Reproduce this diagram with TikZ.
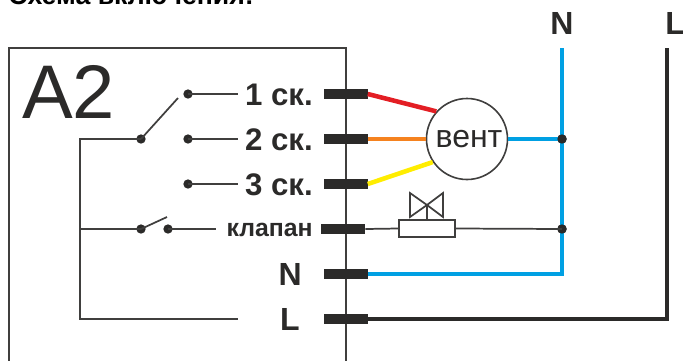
\documentclass[tikz,border=0pt]{standalone}
\usepackage{fontspec}
\setmainfont{Liberation Sans}
\definecolor{ink}{HTML}{2B2A29}
\definecolor{wred}{HTML}{E31E24}
\definecolor{worange}{HTML}{F5821F}
\definecolor{wyellow}{HTML}{FFED00}
\definecolor{wblue}{HTML}{00A0E3}
\tikzset{
  thinw/.style={draw=ink!90!white,line width=1.3pt},
  thickw/.style={line width=3.4pt,line join=miter},
  term/.style={fill=ink,draw=none,minimum width=33pt,minimum height=7pt,inner sep=0pt,rectangle},
  jdot/.style={circle,fill=ink,draw=none,minimum size=7pt,inner sep=0pt},
  lab/.style={text=ink,font=\bfseries\fontsize{23.4}{23.4}\selectfont,inner sep=0pt,anchor=base east},
  pole/.style={lab,font=\bfseries\fontsize{24}{24}\selectfont},
}
\begin{document}
\begin{tikzpicture}[x=0.75pt,y=-0.75pt]
\useasboundingbox (0,0) rectangle (683,361);
% title, cut by the page edge
\node[text=black,font=\bfseries\fontsize{20}{20}\selectfont,inner sep=0pt,anchor=base west] (title) at (8,4.5) {Схема включения:};
% module frame
\draw[draw=ink!90!white,line width=1.3pt] (346,361) -- (346,48) -- (9,48) -- (9,361);
\node[text=ink,font=\fontsize{57}{57}\selectfont,inner sep=0pt,anchor=base west] (a2) at (22,118) {A2};
% terminals
\node[term] (t1) at (345.5,94) {};
\node[term] (t2) at (345.5,139) {};
\node[term] (t3) at (345.5,184) {};
\node[term] (t4) at (343,229) {};
\node[term] (t5) at (345.5,274) {};
\node[term] (t6) at (345.5,319) {};
% labels
\node[lab] (l1) at (313,105) {1 ск.};
\node[lab] (l2) at (313,150) {2 ск.};
\node[lab] (l3) at (313,195) {3 ск.};
\node[lab,font=\bfseries\fontsize{18.6}{18.6}\selectfont] (l4) at (313,236.5) {клапан};
\node[pole] (l5) at (302,285) {N};
\node[pole] (l6) at (300,330.5) {L};
\node[pole,anchor=base] (ln) at (562,34.5) {N};
\node[pole,anchor=base west] (ll) at (665,34.5) {L};
% fan
\node[circle,draw=ink!90!white,line width=1.2pt,minimum size=60.75pt,inner sep=0pt,font=\fontsize{24}{24}\selectfont,text=ink] (fan) at (467,139) {\hspace{3pt}вент};
% supply rails
\coordinate (ntop) at (562,48);
\coordinate (ltop) at (667,48);
\coordinate (ncor) at (562,274);
\coordinate (lcor) at (667,319);
\node[jdot] (j1) at (562,139) {};
\node[jdot] (j2) at (562,229) {};
% coloured wires
\draw[thickw,wred] (t1.east) -- (fan.138);
\draw[thickw,worange] (t2.east) -- (fan.west);
\draw[thickw,wyellow] (t3.east) -- (fan.214);
\draw[thickw,wblue] (fan.east) -- (j1.center);
\draw[thickw,wblue] (ntop) -- (ncor) -- (t5.east);
\draw[thickw,ink] (ltop) -- (lcor) -- (t6.east);
\node[jdot] at (j1) {};
\node[jdot] at (j2) {};
% valve
\node[rectangle,draw=ink!90!white,fill=white,line width=1.3pt,minimum width=41.5pt,minimum height=12.5pt,inner sep=0pt] (valve) at (427,228.5) {};
\coordinate (vc) at (427,205);
\draw[thinw] (t4.east) -- (valve.west);
\draw[thinw] (valve.east) -- (j2.center);
\draw[thinw] (valve.north) -- (vc);
\draw[thinw,line join=miter] (vc) -- (410,193) -- (410,217) -- (vc) -- (443,193) -- (443,217) -- cycle;
% switches
\node[jdot] (s0) at (141,139) {};
\node[jdot] (s1) at (188,94) {};
\node[jdot] (s2) at (188,139) {};
\node[jdot] (s3) at (188,184) {};
\node[jdot] (v0) at (141,229) {};
\node[jdot] (v1) at (168,229) {};
\coordinate (e1) at (238,94);
\coordinate (e2) at (238,139);
\coordinate (e3) at (238,184);
\coordinate (e4) at (216,229);
\coordinate (e6) at (238,319);
\coordinate (lever) at (178,98);
\coordinate (vlever) at (167,217);
\coordinate (bus) at (80,139);
\coordinate (busv) at (80,229);
\coordinate (busl) at (80,319);
\draw[thinw] (s1.center) -- (e1);
\draw[thinw] (s2.center) -- (e2);
\draw[thinw] (s3.center) -- (e3);
\draw[thinw] (v1.center) -- (e4);
\draw[thinw] (s0.center) -- (lever);
\draw[thinw] (v0.center) -- (vlever);
\draw[thinw,line join=miter] (s0.center) -- (bus) -- (busl) -- (e6);
\draw[thinw] (busv) -- (v0.center);
\end{tikzpicture}
\end{document}
